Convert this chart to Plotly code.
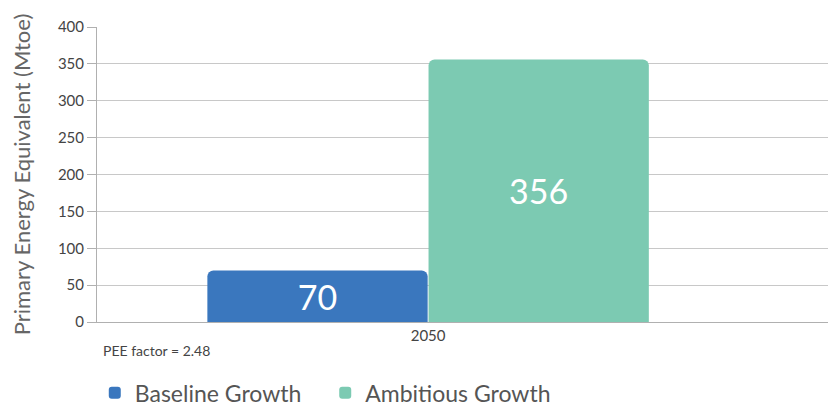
import plotly.graph_objects as go

categories = ["2050"]
series_names = ["Baseline Growth", "Ambitious Growth"]
baseline = [70]
ambitious = [356]
y_ticks = [0, 50, 100, 150, 200, 250, 300, 350, 400]
note = "PEE factor = 2.48"

FONT = "Lato"
fig = go.Figure()
fig.add_trace(go.Bar(
    x=categories, y=baseline, name=series_names[0], legend="legend",
    marker=dict(color="#3a77be", line=dict(width=0)),
    text=[str(v) for v in baseline], textposition="inside",
    insidetextanchor="middle",
    textfont=dict(color="white", size=34, family=FONT),
))
fig.add_trace(go.Bar(
    x=categories, y=ambitious, name=series_names[1], legend="legend2",
    marker=dict(color="#7ccab2", line=dict(width=0)),
    text=[str(v) for v in ambitious], textposition="inside",
    insidetextanchor="middle",
    textfont=dict(color="white", size=34, family=FONT),
))

legend_common = dict(orientation="h", xanchor="left", y=-0.24, yanchor="middle",
                     font=dict(size=23, color="#555"), bgcolor="rgba(0,0,0,0)")

fig.update_layout(
    width=836, height=408,
    margin=dict(l=89, r=6, t=19, b=94, autoexpand=False),
    plot_bgcolor="white", paper_bgcolor="white",
    barmode="group", bargap=0.332, bargroupgap=0.004,
    barcornerradius=6,
    font=dict(family=FONT, color="#555"),
    xaxis=dict(
        type="category", range=[-0.5, 0.619], automargin=False,
        showgrid=False, showline=True, linecolor="#b0b0b0", linewidth=1,
        ticks="", tickfont=dict(size=15, color="#444"),
    ),
    yaxis=dict(
        range=[0, 400], tickvals=y_ticks, automargin=False,
        showgrid=True, gridcolor="#c8c8c8", gridwidth=1,
        showline=True, linecolor="#b0b0b0", linewidth=1,
        ticks="outside", ticklen=9, tickcolor="#b0b0b0",
        tickfont=dict(size=15, color="#444"),
        zeroline=False,
        title=dict(text="Primary Energy Equivalent (Mtoe)",
                   font=dict(size=22, color="#666"), standoff=28),
    ),
    showlegend=True,
    legend=dict(x=-0.003, **legend_common),
    legend2=dict(x=0.308, **legend_common),
    annotations=[dict(text=note, xref="paper", yref="paper", x=0.005, y=-0.095,
                      xanchor="left", yanchor="middle", showarrow=False,
                      font=dict(size=14, color="#444"))],
)
fig.write_html("out.html")
